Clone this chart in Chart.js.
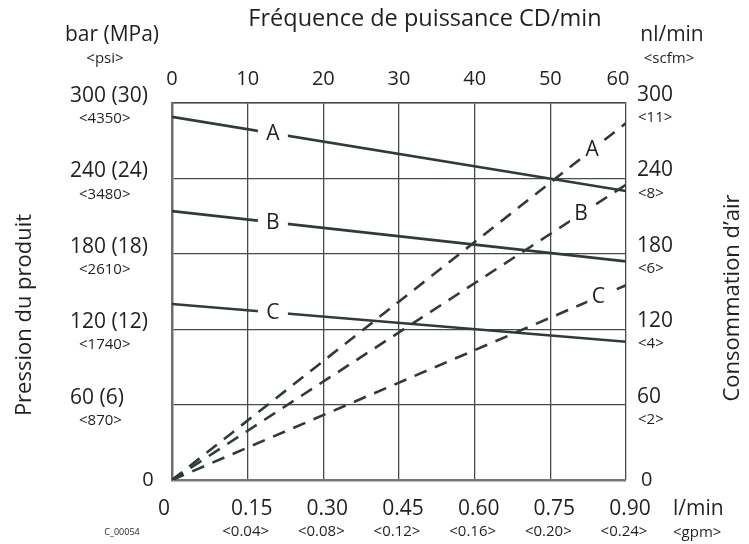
<!DOCTYPE html>
<html>
<head>
<meta charset="utf-8">
<script src="https://cdn.jsdelivr.net/npm/chart.js@4/dist/chart.umd.min.js"></script>
<style>
  html, body { margin: 0; padding: 0; background: #fff; }
  canvas { display: block; }
</style>
</head>
<body>
<canvas id="chart" width="749" height="544"></canvas>
<script>
// --- data ---
// solid lines: product pressure (bar) vs cycle rate (CD/min)
const freqPoints = [0, 60];
const pressureA = [289, 230];
const pressureB = [214, 174];
const pressureC = [140, 110];

// dashed lines: air consumption (nl/min) vs fluid flow (l/min)
const flowPoints = [0, 0.9];
const airA = [0, 284];
const airB = [0, 235];
const airC = [0, 155];

const curveNames = ['A', 'B', 'C'];
const solidLabelAt = [13.2, 13.2, 13.2];      // CD/min
const dashLabelAt = [0.833, 0.811, 0.845];    // l/min

// tick labels
const freqTicks = [0, 10, 20, 30, 40, 50, 60];
const pressureTicks = [0, 60, 120, 180, 240, 300];
const pressureLabels = ['0', '60 (6)', '120 (12)', '180 (18)', '240 (24)', '300 (30)'];
const psiLabels = ['', '<870>', '<1740>', '<2610>', '<3480>', '<4350>'];
const airTicks = [0, 60, 120, 180, 240, 300];
const scfmLabels = ['', '<2>', '<4>', '<6>', '<8>', '<11>'];
const flowTicks = [0, 0.15, 0.30, 0.45, 0.60, 0.75, 0.90];
const flowLabels = ['0', '0.15', '0.30', '0.45', '0.60', '0.75', '0.90'];
const gpmLabels = ['', '<0.04>', '<0.08>', '<0.12>', '<0.16>', '<0.20>', '<0.24>'];

const FONT = '"Open Sans", "Noto Sans", sans-serif';
const TEXT = '#231f20';
const LINE = '#2f3b37';
const GRID = '#4a4a4a';

function pts(xs, ys) {
    return xs.map((x, i) => ({ x: x, y: ys[i] }));
}

function interp(xs, ys, x) {
    const t = (x - xs[0]) / (xs[1] - xs[0]);
    return ys[0] + t * (ys[1] - ys[0]);
}

// draws all axis text and the A/B/C curve labels
const textPlugin = {
    id: 'textPlugin',
    afterDatasetsDraw(chart) {
        const ctx = chart.ctx;
        const { x, y, x2, y2 } = chart.scales;
        ctx.save();
        ctx.fillStyle = TEXT;
        ctx.textBaseline = 'middle';

        // curve labels, with a gap cut in the line
        const solid = [pressureA, pressureB, pressureC];
        const dashed = [airA, airB, airC];
        ctx.font = '21px ' + FONT;
        ctx.textAlign = 'center';
        curveNames.forEach((name, i) => {
            let px = x.getPixelForValue(solidLabelAt[i]);
            let py = y.getPixelForValue(interp(freqPoints, solid[i], solidLabelAt[i]));
            ctx.fillStyle = '#fff';
            ctx.fillRect(px - 14, py - 11, 30, 22);
            ctx.fillStyle = TEXT;
            ctx.fillText(name, px + 1, py + 1);

            px = x2.getPixelForValue(dashLabelAt[i]);
            py = y2.getPixelForValue(interp(flowPoints, dashed[i], dashLabelAt[i]));
            ctx.fillStyle = '#fff';
            ctx.fillRect(px - 11, py - 12, 22, 24);
            ctx.fillStyle = TEXT;
            ctx.fillText(name, px, py);
        });

        // top axis: cycle rate
        ctx.font = '20px ' + FONT;
        freqTicks.forEach((v, i) => {
            const off = i === freqTicks.length - 1 ? -8 : 0;
            ctx.fillText(String(v), x.getPixelForValue(v) + off, 79);
        });

        // left axis: pressure
        pressureTicks.forEach((v, i) => {
            const py = y.getPixelForValue(v);
            if (v === 0) {
                ctx.textAlign = 'center';
                ctx.font = '20px ' + FONT;
                ctx.fillText(pressureLabels[i], 148, py);
                return;
            }
            ctx.textAlign = 'left';
            ctx.font = '21px ' + FONT;
            ctx.fillText(pressureLabels[i], 70, py - 7);
            ctx.font = '15px ' + FONT;
            ctx.fillText(psiLabels[i], 79, py + 16);
        });

        // right axis: air consumption
        airTicks.forEach((v, i) => {
            const py = y2.getPixelForValue(v);
            ctx.textAlign = 'left';
            if (v === 0) {
                ctx.font = '20px ' + FONT;
                ctx.fillText(String(v), 641, py);
                return;
            }
            ctx.font = '21px ' + FONT;
            ctx.fillText(String(v), 637, py - 8);
            ctx.font = '15px ' + FONT;
            ctx.fillText(scfmLabels[i], 638, py + 15);
        });

        // bottom axis: fluid flow
        ctx.textAlign = 'center';
        flowTicks.forEach((v, i) => {
            const px = x2.getPixelForValue(v);
            ctx.font = '21px ' + FONT;
            ctx.fillText(flowLabels[i], px + (v === 0 ? -8 : 4), 509);
            ctx.font = '15px ' + FONT;
            ctx.fillText(gpmLabels[i], px - 2, 532);
        });

        // units and titles
        ctx.font = '21px ' + FONT;
        ctx.fillText('bar (MPa)', 112, 35);
        ctx.fillText('nl/min', 672, 35);
        ctx.font = '15px ' + FONT;
        ctx.fillText('<psi>', 105, 59);
        ctx.fillText('<scfm>', 669, 59);

        ctx.textAlign = 'left';
        ctx.font = '21px ' + FONT;
        ctx.fillText('l/min', 673, 509);
        ctx.font = '15px ' + FONT;
        ctx.fillText('<gpm>', 673, 533);

        ctx.textAlign = 'center';
        ctx.font = '9px ' + FONT;
        ctx.fillText('C_00054', 122, 532);

        ctx.font = '23.5px ' + FONT;
        ctx.fillText('Fréquence de puissance CD/min', 425, 19);

        ctx.font = '22px ' + FONT;
        ctx.save();
        ctx.translate(25, 315);
        ctx.rotate(-Math.PI / 2);
        ctx.fillText('Pression du produit', 0, 0);
        ctx.restore();

        ctx.save();
        ctx.translate(733, 298);
        ctx.rotate(-Math.PI / 2);
        ctx.fillText('Consommation d\u2019air', 0, 0);
        ctx.restore();

        ctx.restore();
    }
};

const solidStyle = { borderColor: LINE, borderWidth: 2.6, pointRadius: 0, fill: false, xAxisID: 'x', yAxisID: 'y' };
const dashStyle = { borderColor: LINE, borderWidth: 2.6, borderDash: [13, 9], pointRadius: 0, fill: false, xAxisID: 'x2', yAxisID: 'y2' };

new Chart(document.getElementById('chart'), {
    type: 'line',
    data: {
        datasets: [
            { label: 'A', data: pts(freqPoints, pressureA), ...solidStyle },
            { label: 'B', data: pts(freqPoints, pressureB), ...solidStyle },
            { label: 'C', data: pts(freqPoints, pressureC), ...solidStyle },
            { label: 'A air', data: pts(flowPoints, airA), ...dashStyle },
            { label: 'B air', data: pts(flowPoints, airB), ...dashStyle },
            { label: 'C air', data: pts(flowPoints, airC), ...dashStyle }
        ]
    },
    options: {
        responsive: false,
        animation: false,
        layout: { padding: { left: 172, right: 123, top: 103, bottom: 64 } },
        plugins: { legend: { display: false }, tooltip: { enabled: false } },
        scales: {
            x: {
                type: 'linear', position: 'top', min: 0, max: 60,
                ticks: { display: false, stepSize: 10 },
                grid: { color: GRID, lineWidth: 1.3, drawTicks: false },
                border: { color: GRID, width: 1.5 }
            },
            y: {
                type: 'linear', position: 'left', min: 0, max: 300,
                ticks: { display: false, stepSize: 60 },
                grid: {
                    color: c => c.tick && c.tick.value === 0 ? '#777' : GRID,
                    lineWidth: c => c.tick && c.tick.value === 0 ? 2.5 : 1.3,
                    drawTicks: false
                },
                border: { color: '#6e6e6e', width: 2.5 }
            },
            x2: { type: 'linear', position: 'bottom', min: 0, max: 0.9, display: false },
            y2: { type: 'linear', position: 'right', min: 0, max: 300, display: false }
        }
    },
    plugins: [textPlugin]
});
</script>
</body>
</html>
